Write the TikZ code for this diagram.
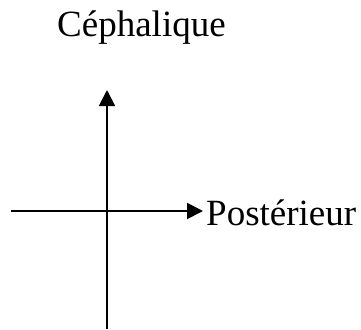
\documentclass[tikz,border=0pt]{standalone}
\usepackage{fontspec}
\setmainfont{Liberation Serif}
\usetikzlibrary{arrows.meta}
\begin{document}
\begin{tikzpicture}[x=1pt,y=-1pt,
  lbl/.style={inner sep=0pt,anchor=base west,font=\fontsize{37}{40}\selectfont},
  axis/.style={line width=1.8pt,-{Triangle[length=16pt,width=16pt]}}]
\useasboundingbox (0,0) rectangle (361,329);
\node[lbl] (ceph) at (57,37) {Céphalique};
\node[lbl] (post) at (206,225) {Postérieur};
\coordinate (vbot) at (107,329);
\coordinate (vtop) at (107,90);
\coordinate (hleft) at (11,211);
\coordinate (hright) at (203,211);
\draw[axis] (vbot) -- (vtop);
\draw[axis] (hleft) -- (hright);
\end{tikzpicture}
\end{document}
